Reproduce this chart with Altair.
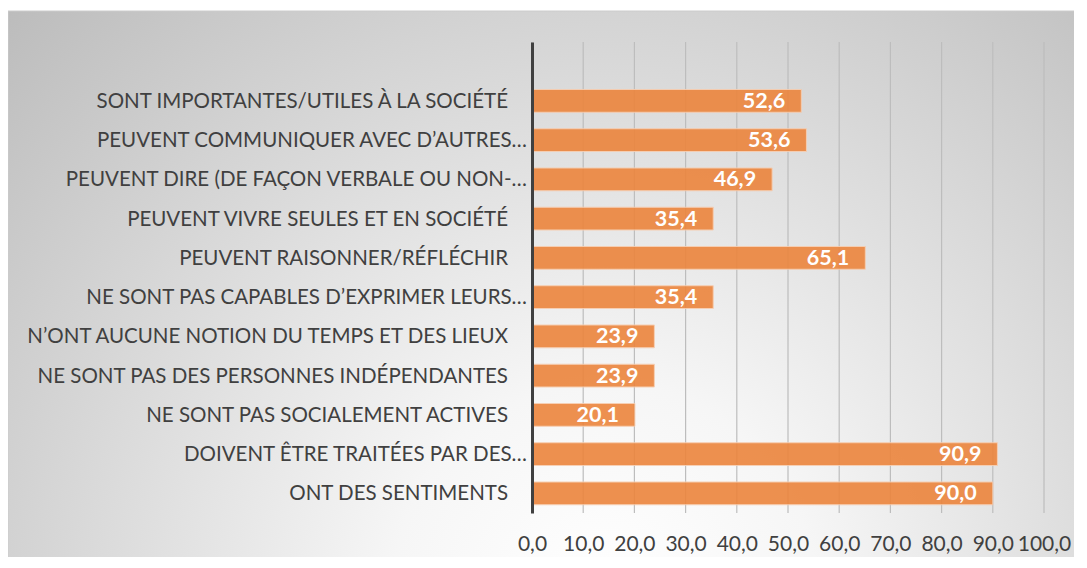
import altair as alt
import pandas as pd

categories = [
    "SONT IMPORTANTES/UTILES À LA SOCIÉTÉ",
    "PEUVENT COMMUNIQUER AVEC D’AUTRES…",
    "PEUVENT DIRE (DE FAÇON VERBALE OU NON-…",
    "PEUVENT VIVRE SEULES ET EN SOCIÉTÉ",
    "PEUVENT RAISONNER/RÉFLÉCHIR",
    "NE SONT PAS CAPABLES D’EXPRIMER LEURS…",
    "N’ONT AUCUNE NOTION DU TEMPS ET DES LIEUX",
    "NE SONT PAS DES PERSONNES INDÉPENDANTES",
    "NE SONT PAS SOCIALEMENT ACTIVES",
    "DOIVENT ÊTRE TRAITÉES PAR DES…",
    "ONT DES SENTIMENTS",
]
values = [52.6, 53.6, 46.9, 35.4, 65.1, 35.4, 23.9, 23.9, 20.1, 90.9, 90.0]
tick_values = [0, 10, 20, 30, 40, 50, 60, 70, 80, 90, 100]

df = pd.DataFrame({"cat": categories, "value": values})
df["trunc"] = df["cat"].str.endswith("…")
grid_df = pd.DataFrame({"t": tick_values})

FONT = "Lato"
TEXT_COLOR = "#404040"

y_domain = [" "] + categories
y_scale = alt.Scale(domain=y_domain, paddingInner=0.42, paddingOuter=0.21)

y_enc = alt.Y(
    "cat:N",
    scale=y_scale,
    axis=alt.Axis(
        title=None,
        domain=True,
        domainColor="#404040",
        domainWidth=3,
        ticks=False,
        grid=False,
        labels=False,
        zindex=1,
    ),
)

x_scale = alt.Scale(domain=[0, 100], nice=False, zero=True)

bg = alt.Chart(alt.Data(values=[{}])).mark_rect(
    fill=alt.RadialGradient(
        gradient="radial",
        x1=0.55, y1=0.78, r1=0.0,
        x2=0.55, y2=0.78, r2=0.78,
        stops=[
            alt.GradientStop(offset=0.0, color="#ffffff"),
            alt.GradientStop(offset=0.25, color="#f6f6f6"),
            alt.GradientStop(offset=1.0, color="#bbbbbb"),
        ],
    ),
    stroke="#cccccc",
    strokeWidth=1,
).encode(
    x=alt.value(-524), x2=alt.value(560), y=alt.value(-31), y2=alt.value(530)
)

grid = alt.Chart(grid_df).mark_rule(color="#bdbdbd", strokeWidth=1.2).encode(
    x=alt.X("t:Q", scale=x_scale)
)

bars = alt.Chart(df).mark_bar(
    color="#EC853D", opacity=0.9, stroke="#F7CCAE", strokeWidth=1
).encode(
    x=alt.X(
        "value:Q",
        scale=x_scale,
        axis=alt.Axis(
            title=None,
            values=tick_values,
            domain=False,
            ticks=False,
            grid=False,
            labelFont=FONT,
            labelFontSize=21,
            labelColor=TEXT_COLOR,
            labelPadding=20,
            labelOverlap=False,
            labelFlush=False,
            zindex=1,
            labelExpr="replace(format(datum.value, '.1f'), '.', ',')",
        ),
    ),
    y=y_enc,
)

value_labels = alt.Chart(df).transform_calculate(
    lab="replace(format(datum.value, '.1f'), '.', ',')"
).mark_text(
    align="right", baseline="middle", dx=-16, dy=1,
    font=FONT, fontSize=21.5, fontWeight="bold", color="white",
).encode(
    x=alt.X("value:Q", scale=x_scale),
    y=alt.Y("cat:N", scale=y_scale),
    text="lab:N",
)

cat_text_style = dict(align="right", baseline="middle", dy=1,
                      font=FONT, fontSize=20.5, color=TEXT_COLOR)

cat_labels_trunc = alt.Chart(df).transform_filter("datum.trunc").mark_text(
    dx=-5, **cat_text_style
).encode(x=alt.value(0), y=alt.Y("cat:N", scale=y_scale), text="cat:N")

cat_labels_full = alt.Chart(df).transform_filter("!datum.trunc").mark_text(
    dx=-24, **cat_text_style
).encode(x=alt.value(0), y=alt.Y("cat:N", scale=y_scale), text="cat:N")

chart = alt.layer(
    bg, grid, bars, value_labels, cat_labels_trunc, cat_labels_full
).properties(
    width=512,
    height=471,
    padding={"left": 524, "top": 34, "right": 30, "bottom": 44},
    autosize=alt.AutoSizeParams(type="none"),
    background="white",
).configure_view(stroke=None)

chart.save("out.html", embed_options={"renderer": "svg", "actions": False})
